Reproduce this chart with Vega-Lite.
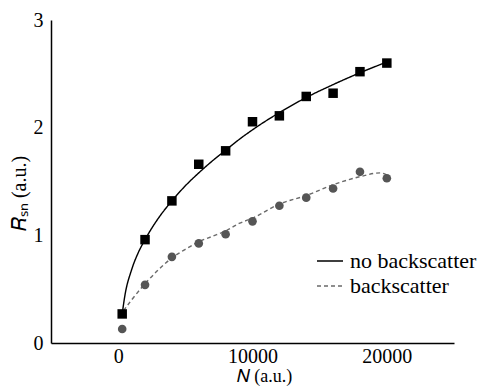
{
  "$schema": "https://vega.github.io/schema/vega-lite/v6.json",
  "width": 403,
  "height": 323,
  "autosize": {"type": "none"},
  "padding": {"left": 51, "top": 20, "right": 37, "bottom": 45},
  "background": "white",
  "config": {"view": {"stroke": null}, "font": "Liberation Serif"},
  "data": {"values": [
    {"N": 300, "R": 0.27, "series": "no backscatter", "kind": "data"},
    {"N": 2000, "R": 0.96, "series": "no backscatter", "kind": "data"},
    {"N": 4000, "R": 1.32, "series": "no backscatter", "kind": "data"},
    {"N": 6000, "R": 1.66, "series": "no backscatter", "kind": "data"},
    {"N": 8000, "R": 1.785, "series": "no backscatter", "kind": "data"},
    {"N": 10000, "R": 2.055, "series": "no backscatter", "kind": "data"},
    {"N": 12000, "R": 2.11, "series": "no backscatter", "kind": "data"},
    {"N": 14000, "R": 2.29, "series": "no backscatter", "kind": "data"},
    {"N": 16000, "R": 2.32, "series": "no backscatter", "kind": "data"},
    {"N": 18000, "R": 2.52, "series": "no backscatter", "kind": "data"},
    {"N": 20000, "R": 2.6, "series": "no backscatter", "kind": "data"},
    {"N": 300, "R": 0.13, "series": "backscatter", "kind": "data"},
    {"N": 2000, "R": 0.54, "series": "backscatter", "kind": "data"},
    {"N": 4000, "R": 0.8, "series": "backscatter", "kind": "data"},
    {"N": 6000, "R": 0.925, "series": "backscatter", "kind": "data"},
    {"N": 8000, "R": 1.01, "series": "backscatter", "kind": "data"},
    {"N": 10000, "R": 1.13, "series": "backscatter", "kind": "data"},
    {"N": 12000, "R": 1.275, "series": "backscatter", "kind": "data"},
    {"N": 14000, "R": 1.35, "series": "backscatter", "kind": "data"},
    {"N": 16000, "R": 1.435, "series": "backscatter", "kind": "data"},
    {"N": 18000, "R": 1.59, "series": "backscatter", "kind": "data"},
    {"N": 20000, "R": 1.53, "series": "backscatter", "kind": "data"},
    {"N": 300, "R": 0.27, "series": "no backscatter", "kind": "fit"},
    {"N": 500, "R": 0.44, "series": "no backscatter", "kind": "fit"},
    {"N": 1000, "R": 0.68, "series": "no backscatter", "kind": "fit"},
    {"N": 1500, "R": 0.84, "series": "no backscatter", "kind": "fit"},
    {"N": 2000, "R": 0.96, "series": "no backscatter", "kind": "fit"},
    {"N": 3000, "R": 1.16, "series": "no backscatter", "kind": "fit"},
    {"N": 4000, "R": 1.32, "series": "no backscatter", "kind": "fit"},
    {"N": 5000, "R": 1.46, "series": "no backscatter", "kind": "fit"},
    {"N": 6000, "R": 1.58, "series": "no backscatter", "kind": "fit"},
    {"N": 7000, "R": 1.69, "series": "no backscatter", "kind": "fit"},
    {"N": 8000, "R": 1.79, "series": "no backscatter", "kind": "fit"},
    {"N": 9000, "R": 1.89, "series": "no backscatter", "kind": "fit"},
    {"N": 10000, "R": 1.98, "series": "no backscatter", "kind": "fit"},
    {"N": 12000, "R": 2.14, "series": "no backscatter", "kind": "fit"},
    {"N": 14000, "R": 2.28, "series": "no backscatter", "kind": "fit"},
    {"N": 16000, "R": 2.4, "series": "no backscatter", "kind": "fit"},
    {"N": 18000, "R": 2.51, "series": "no backscatter", "kind": "fit"},
    {"N": 20000, "R": 2.61, "series": "no backscatter", "kind": "fit"},
    {"N": 400, "R": 0.3, "series": "backscatter", "kind": "fit"},
    {"N": 1000, "R": 0.4, "series": "backscatter", "kind": "fit"},
    {"N": 2000, "R": 0.55, "series": "backscatter", "kind": "fit"},
    {"N": 3000, "R": 0.68, "series": "backscatter", "kind": "fit"},
    {"N": 4000, "R": 0.79, "series": "backscatter", "kind": "fit"},
    {"N": 5000, "R": 0.87, "series": "backscatter", "kind": "fit"},
    {"N": 6000, "R": 0.94, "series": "backscatter", "kind": "fit"},
    {"N": 7000, "R": 0.99, "series": "backscatter", "kind": "fit"},
    {"N": 8000, "R": 1.04, "series": "backscatter", "kind": "fit"},
    {"N": 9000, "R": 1.11, "series": "backscatter", "kind": "fit"},
    {"N": 10000, "R": 1.16, "series": "backscatter", "kind": "fit"},
    {"N": 12000, "R": 1.29, "series": "backscatter", "kind": "fit"},
    {"N": 14000, "R": 1.37, "series": "backscatter", "kind": "fit"},
    {"N": 16000, "R": 1.47, "series": "backscatter", "kind": "fit"},
    {"N": 18000, "R": 1.545, "series": "backscatter", "kind": "fit"},
    {"N": 19500, "R": 1.58, "series": "backscatter", "kind": "fit"},
    {"N": 20000, "R": 1.56, "series": "backscatter", "kind": "fit"}
  ]},
  "encoding": {
    "x": {
      "field": "N", "type": "quantitative",
      "scale": {"domain": [-5000, 25000], "nice": false, "zero": false},
      "axis": {
        "values": [0, 10000, 20000], "format": "d", "grid": false, "ticks": false,
        "domainColor": "#000", "domainWidth": 1.5,
        "labelFont": "Liberation Serif", "labelFontSize": 20, "labelColor": "#000", "labelPadding": 3,
        "title": "𝑁 (a.u.)", "titleFont": "Liberation Serif", "titleFontSize": 18, "titleFontWeight": "normal",
        "titleColor": "#000", "titlePadding": 1, "titleX": 213, "titleAlign": "center"
      }
    },
    "y": {
      "field": "R", "type": "quantitative",
      "scale": {"domain": [0, 3], "nice": false},
      "axis": {
        "values": [0, 1, 2, 3], "grid": false, "ticks": false,
        "domainColor": "#000", "domainWidth": 1.5,
        "labelFont": "Liberation Serif", "labelFontSize": 20, "labelColor": "#000", "labelPadding": 8,
        "title": "𝑅ₛₙ (a.u.)", "titleFont": "Liberation Serif", "titleFontSize": 20, "titleFontWeight": "normal",
        "titleColor": "#000", "titlePadding": 4, "titleY": 173, "titleAlign": "center"
      }
    }
  },
  "layer": [
    {
      "transform": [{"filter": "datum.kind === 'fit'"}],
      "mark": {"type": "line", "interpolate": "monotone", "strokeWidth": 1.4},
      "encoding": {
        "color": {
          "field": "series", "type": "nominal",
          "scale": {"domain": ["no backscatter", "backscatter"], "range": ["#000000", "#6a6a6a"]},
          "legend": {
            "orient": "none", "legendX": 265, "legendY": 227, "title": null,
            "symbolType": "stroke", "symbolSize": 676, "symbolStrokeWidth": 1.4,
            "labelFont": "Liberation Serif", "labelFontSize": 22, "labelColor": "#000",
            "labelOffset": 6, "rowPadding": -5,
            "encode": {"symbols": {"update": {"strokeDash": {"value": []}}}}
          }
        },
        "strokeDash": {
          "field": "series", "type": "nominal",
          "scale": {"domain": ["no backscatter", "backscatter"], "range": [[1, 0], [4, 3]]},
          "legend": null
        }
      }
    },
    {
      "transform": [{"filter": "datum.kind === 'data' && datum.series === 'no backscatter'"}],
      "mark": {"type": "point", "shape": "square", "filled": true, "size": 90, "color": "#000", "opacity": 1}
    },
    {
      "transform": [{"filter": "datum.kind === 'data' && datum.series === 'backscatter'"}],
      "mark": {"type": "point", "shape": "circle", "filled": true, "size": 75, "color": "#555", "opacity": 1}
    }
  ]
}
